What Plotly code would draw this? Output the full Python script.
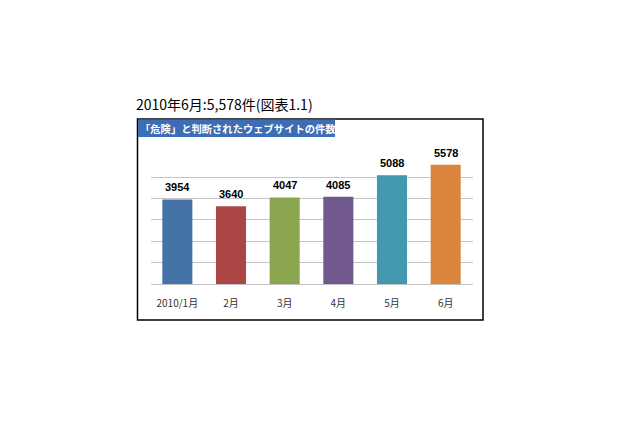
import plotly.graph_objects as go

months = ["2010/1月", "2月", "3月", "4月", "5月", "6月"]
counts = [3954, 3640, 4047, 4085, 5088, 5578]
bar_colors = ["#4572A7", "#AA4643", "#89A54E", "#71588F", "#4198AF", "#DB843D"]

W, H = 640, 426
OFF = 8  # page body margin


def px(x):
    return (x - OFF) / W


def py(y):
    return 1 - (y - OFF) / H


fig = go.Figure(go.Bar(
    x=months,
    y=counts,
    marker=dict(color=bar_colors, line=dict(width=0)),
    width=0.56,
    hovertemplate="%{x}: %{y}<extra></extra>",
))

# value labels sit a bit higher than plotly's "outside" text
labels = [
    dict(x=m, y=c, text="<b>%d</b>" % c, showarrow=False,
         yanchor="bottom", yshift=4,
         font=dict(size=11, color="black", family="Arial, Liberation Sans"))
    for m, c in zip(months, counts)
]

fig.update_layout(
    width=W, height=H,
    margin=dict(l=0, r=0, t=0, b=0),
    paper_bgcolor="white",
    plot_bgcolor="white",
    showlegend=False,
    font=dict(family="Noto Sans CJK JP, sans-serif"),
    xaxis=dict(
        domain=[px(150.5), px(472.5)],
        showline=False, ticks="outside", ticklen=10, tickcolor="white",
        tickfont=dict(size=10, color="#333333"),
    ),
    yaxis=dict(
        domain=[py(284), py(155.7)],
        range=[0, 6000], dtick=1000,
        showticklabels=False,
        showgrid=True, gridcolor="#c4c4c4", gridwidth=1,
        zeroline=True, zerolinecolor="#c4c4c4", zerolinewidth=1,
    ),
    shapes=[
        dict(type="rect", xref="paper", yref="paper",
             x0=px(137.5), x1=px(483), y0=py(320), y1=py(119),
             line=dict(color="black", width=1.5), fillcolor="rgba(0,0,0,0)"),
        dict(type="rect", xref="paper", yref="paper",
             x0=px(138), x1=px(335), y0=py(137), y1=py(119.5),
             line=dict(width=0), fillcolor="#3d6db5"),
    ],
    annotations=labels + [
        dict(text="2010年6月:5,578件(図表1.1)", xref="paper", yref="paper",
             x=px(134), y=py(104), xanchor="left", yanchor="middle",
             showarrow=False, font=dict(size=14, color="black")),
        dict(text="<b>「危険」と判断されたウェブサイトの件数</b>", xref="paper", yref="paper",
             x=px(138), y=py(128), xanchor="left", yanchor="middle",
             showarrow=False, font=dict(size=10.3, color="white")),
    ],
)

fig.write_html("out.html")
